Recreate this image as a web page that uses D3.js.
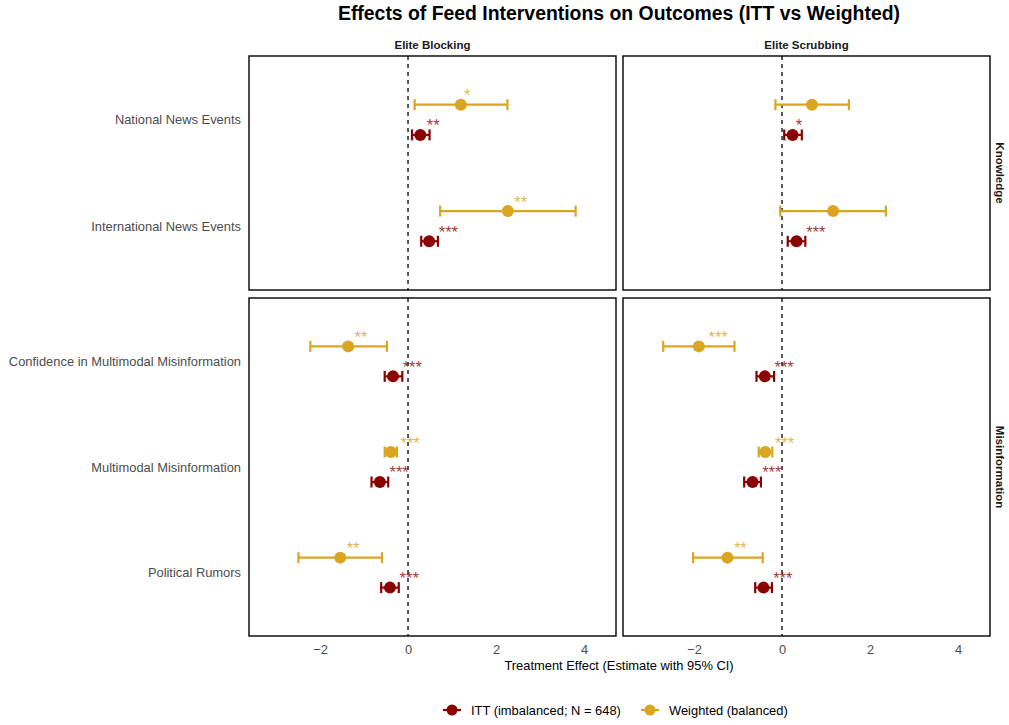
<!DOCTYPE html>
<html>
<head>
<meta charset="utf-8">
<script src="https://cdn.jsdelivr.net/npm/d3@7"></script>
<style>
  body { margin: 0; background: #fff; }
  svg { display: block; font-family: "Liberation Sans", Arial, Helvetica, sans-serif; }
</style>
</head>
<body>
<svg id="chart" width="1009" height="725"></svg>
<script>
// Facets and outcomes
const interventions = ["Elite Blocking", "Elite Scrubbing"];
const outcomeGroups = ["Knowledge", "Misinformation"];
const outcomesByGroup = {
  "Knowledge": ["National News Events", "International News Events"],
  "Misinformation": ["Confidence in Multimodal Misinformation", "Multimodal Misinformation", "Political Rumors"]
};
const estimators = ["ITT (imbalanced; N = 648)", "Weighted (balanced)"];
const xTicks = [-2, 0, 2, 4];

// One row per intervention x outcome; estimate, lower, upper, significance stars
const ittRows = [
  ["Elite Blocking", "National News Events", 0.28, 0.09, 0.49, "**"],
  ["Elite Blocking", "International News Events", 0.48, 0.30, 0.68, "***"],
  ["Elite Blocking", "Confidence in Multimodal Misinformation", -0.34, -0.53, -0.13, "***"],
  ["Elite Blocking", "Multimodal Misinformation", -0.64, -0.83, -0.45, "***"],
  ["Elite Blocking", "Political Rumors", -0.41, -0.61, -0.21, "***"],
  ["Elite Scrubbing", "National News Events", 0.24, 0.05, 0.45, "*"],
  ["Elite Scrubbing", "International News Events", 0.33, 0.13, 0.53, "***"],
  ["Elite Scrubbing", "Confidence in Multimodal Misinformation", -0.39, -0.58, -0.18, "***"],
  ["Elite Scrubbing", "Multimodal Misinformation", -0.67, -0.86, -0.48, "***"],
  ["Elite Scrubbing", "Political Rumors", -0.42, -0.61, -0.23, "***"]
];
const weightedRows = [
  ["Elite Blocking", "National News Events", 1.20, 0.15, 2.26, "*"],
  ["Elite Blocking", "International News Events", 2.27, 0.73, 3.81, "**"],
  ["Elite Blocking", "Confidence in Multimodal Misinformation", -1.36, -2.22, -0.48, "**"],
  ["Elite Blocking", "Multimodal Misinformation", -0.39, -0.53, -0.25, "***"],
  ["Elite Blocking", "Political Rumors", -1.54, -2.49, -0.59, "**"],
  ["Elite Scrubbing", "National News Events", 0.68, -0.15, 1.52, ""],
  ["Elite Scrubbing", "International News Events", 1.16, -0.04, 2.36, ""],
  ["Elite Scrubbing", "Confidence in Multimodal Misinformation", -1.89, -2.70, -1.08, "***"],
  ["Elite Scrubbing", "Multimodal Misinformation", -0.38, -0.53, -0.22, "***"],
  ["Elite Scrubbing", "Political Rumors", -1.24, -2.02, -0.44, "**"]
];

const colors = { [estimators[0]]: "#8B0000", [estimators[1]]: "#DAA520" };

const toRecords = (rows, est) => rows.map(r => ({
  intervention: r[0], outcome: r[1], estimate: r[2], lo: r[3], hi: r[4], stars: r[5], estimator: est
}));
const data = toRecords(ittRows, estimators[0]).concat(toRecords(weightedRows, estimators[1]));
const groupOf = o => outcomeGroups.find(g => outcomesByGroup[g].includes(o));

const svg = d3.select("#chart");

// Layout
const colX = [249, 623], panelW = 367;
const rowY = { "Knowledge": [56, 290], "Misinformation": [298, 636] };
const xDomain = [-3.614, 4.727];
const labelSize = 12.9;

// Title
svg.append("text").attr("x", 619).attr("y", 20).attr("text-anchor", "middle")
  .attr("font-size", 19.4).attr("font-weight", "bold").attr("fill", "#000")
  .text("Effects of Feed Interventions on Outcomes (ITT vs Weighted)");

interventions.forEach((iv, ci) => {
  const x = d3.scaleLinear().domain(xDomain).range([colX[ci], colX[ci] + panelW]);

  // strip label
  svg.append("text").attr("x", colX[ci] + panelW / 2).attr("y", 49)
    .attr("text-anchor", "middle").attr("font-size", 11.5).attr("font-weight", "bold")
    .attr("fill", "#1a1a1a").text(iv);

  outcomeGroups.forEach(g => {
    const [y0, y1] = rowY[g];
    const y = d3.scalePoint().domain(outcomesByGroup[g]).range([y0, y1]).padding(0.6);
    const off = y.step() * 0.142;
    const yOf = d => y(d.outcome) + (d.estimator === estimators[0] ? off : -off);

    const panel = svg.append("g");
    panel.append("rect").attr("x", colX[ci]).attr("y", y0).attr("width", panelW).attr("height", y1 - y0)
      .attr("fill", "#fff");

    // zero reference line
    panel.append("line").attr("x1", x(0)).attr("x2", x(0)).attr("y1", y0).attr("y2", y1)
      .attr("stroke", "#000").attr("stroke-width", 1.3).attr("stroke-dasharray", "4,4");

    const rows = data.filter(d => d.intervention === iv && groupOf(d.outcome) === g);
    const capH = 5.5;
    rows.forEach(d => {
      const c = colors[d.estimator], yy = yOf(d);
      panel.append("line").attr("x1", x(d.lo)).attr("x2", x(d.hi)).attr("y1", yy).attr("y2", yy)
        .attr("stroke", c).attr("stroke-width", 2.2);
      [d.lo, d.hi].forEach(v => panel.append("line").attr("x1", x(v)).attr("x2", x(v))
        .attr("y1", yy - capH).attr("y2", yy + capH).attr("stroke", c).attr("stroke-width", 2.2));
      panel.append("circle").attr("cx", x(d.estimate)).attr("cy", yy).attr("r", 6).attr("fill", c);
      if (d.stars) {
        const t = panel.append("text").attr("x", x(d.estimate)).attr("y", yy - 3.5)
          .attr("font-size", 16.5).attr("fill", c).attr("fill-opacity", 0.8).text(d.stars);
        const w = t.node().getComputedTextLength();
        t.attr("x", x(d.estimate) + w * 0.5);
      }
    });

    panel.append("rect").attr("x", colX[ci]).attr("y", y0).attr("width", panelW).attr("height", y1 - y0)
      .attr("fill", "none").attr("stroke", "#000").attr("stroke-width", 1.4);

    // outcome labels on the left column only
    if (ci === 0) {
      outcomesByGroup[g].forEach(o => {
        svg.append("text").attr("x", 241).attr("y", y(o)).attr("dy", "0.35em")
          .attr("text-anchor", "end").attr("font-size", labelSize).attr("fill", "#4d4d4d").text(o);
      });
    }
    // row strip labels on the right
    if (ci === interventions.length - 1) {
      svg.append("text").attr("transform", `translate(996,${(y0 + y1) / 2}) rotate(90)`)
        .attr("text-anchor", "middle").attr("font-size", 11.5).attr("font-weight", "bold")
        .attr("fill", "#1a1a1a").text(g);
    }
  });

  // x axis
  const axis = svg.append("g").attr("transform", `translate(0,${rowY["Misinformation"][1]})`)
    .call(d3.axisBottom(x).tickValues(xTicks).tickSize(0).tickPadding(9)
      .tickFormat(v => v < 0 ? "\u2212" + Math.abs(v) : String(v)));
  axis.select(".domain").remove();
  axis.selectAll("text").attr("font-size", labelSize).attr("fill", "#4d4d4d")
    .attr("font-family", "Liberation Sans, Arial, sans-serif");
});

// x axis title
svg.append("text").attr("x", 619).attr("y", 670).attr("text-anchor", "middle")
  .attr("font-size", labelSize).attr("fill", "#000").text("Treatment Effect (Estimate with 95% CI)");

// legend
const legendX = [452, 650];
estimators.forEach((e, i) => {
  const g = svg.append("g").attr("transform", `translate(${legendX[i]},710)`);
  g.append("line").attr("x1", -9).attr("x2", 9).attr("stroke", colors[e]).attr("stroke-width", 2.2);
  g.append("circle").attr("r", 5.5).attr("fill", colors[e]);
  g.append("text").attr("x", 19).attr("dy", "0.35em").attr("font-size", labelSize).attr("fill", "#000").text(e);
});
</script>
</body>
</html>
